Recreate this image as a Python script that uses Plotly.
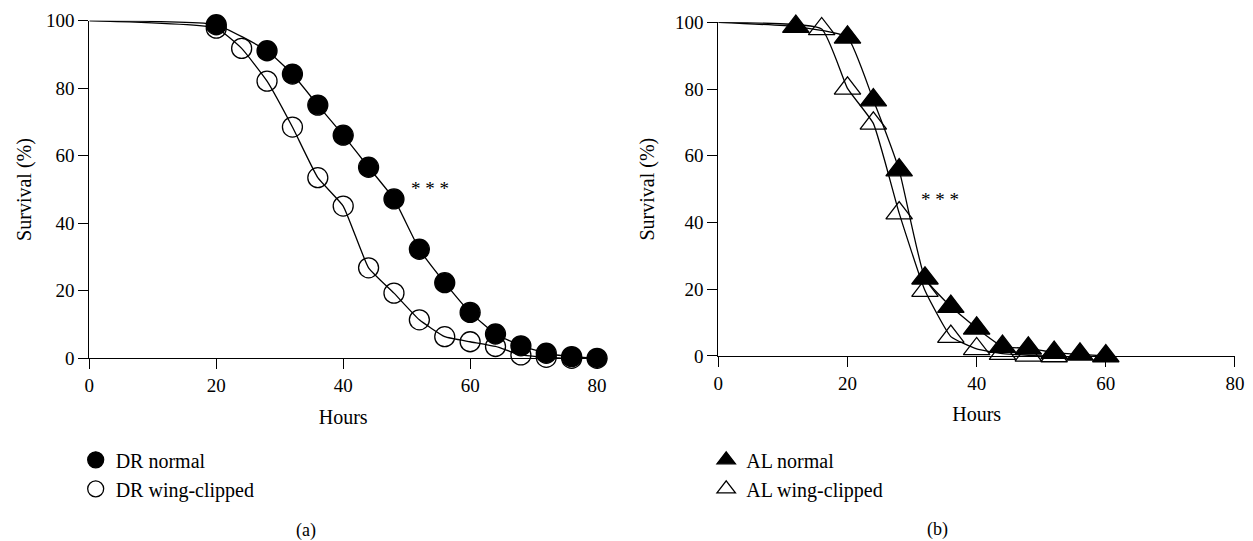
import plotly.graph_objects as go

# ---- data ----
dr_normal_x = [0, 20, 28, 32, 36, 40, 44, 48, 52, 56, 60, 64, 68, 72, 76, 80]
dr_normal_y = [100, 98.8, 91.1, 84.2, 75.0, 66.1, 56.6, 47.2, 32.3, 22.4, 13.6, 7.2, 3.7, 1.5, 0.5, 0]

dr_clip_x = [0, 20, 24, 28, 32, 36, 40, 44, 48, 52, 56, 60, 64, 68, 72, 76]
dr_clip_y = [100, 97.8, 91.8, 82.1, 68.5, 53.5, 45.1, 26.8, 19.3, 11.4, 6.4, 4.9, 3.5, 1.0, 0.3, 0]

al_normal_x = [0, 12, 20, 24, 28, 32, 36, 40, 44, 48, 52, 56, 60]
al_normal_y = [100, 98.7, 95.5, 76.7, 55.7, 23.3, 14.8, 8.3, 2.8, 2.3, 1.0, 0.5, 0]

al_clip_x = [0, 16, 20, 24, 28, 32, 36, 40, 44, 48, 52]
al_clip_y = [100, 98.0, 80.2, 69.7, 42.8, 19.6, 5.8, 2.1, 0.7, 0.2, 0]

x_ticks = [0, 20, 40, 60, 80]
y_ticks = [0, 20, 40, 60, 80, 100]
x_label = "Hours"
y_label = "Survival (%)"
panel_labels = ["(a)", "(b)"]
sig_text = "* * *"

FONT = "Liberation Serif"
BLACK = "black"

series = [
    # name, x, y, symbol, size, axes, legend
    ("DR normal", dr_normal_x, dr_normal_y, "circle", 20, ("x", "y"), "legend"),
    ("DR wing-clipped", dr_clip_x, dr_clip_y, "circle-open", 20, ("x", "y"), "legend"),
    ("AL normal", al_normal_x, al_normal_y, "triangle-up", 23, ("x2", "y2"), "legend2"),
    ("AL wing-clipped", al_clip_x, al_clip_y, "triangle-up-open", 23, ("x2", "y2"), "legend2"),
]

fig = go.Figure()

for name, xs, ys, sym, size, (xa, ya), leg in series:
    # connecting curve (starts at 0 h, 100 %)
    fig.add_trace(go.Scatter(
        x=xs, y=ys, mode="lines", showlegend=False, hoverinfo="skip",
        line=dict(color=BLACK, width=1.3, shape="spline", smoothing=0.4),
        xaxis=xa, yaxis=ya, cliponaxis=False))
    # observed points
    fig.add_trace(go.Scatter(
        x=xs[1:], y=ys[1:], mode="markers", name=name, legend=leg,
        marker=dict(symbol=sym, size=size, color=BLACK, opacity=1,
                    line=dict(color=BLACK, width=1.3)),
        xaxis=xa, yaxis=ya, cliponaxis=False))

axis_common = dict(
    showline=True, linecolor=BLACK, linewidth=1.3, ticks="outside", ticklen=10,
    tickwidth=1.3, tickcolor=BLACK, showgrid=False, zeroline=False, automargin=False,
    tickfont=dict(family=FONT, size=19, color=BLACK),
    title_font=dict(family=FONT, size=20, color=BLACK),
)

fig.update_layout(
    width=1253, height=541,
    margin=dict(l=0, r=0, t=0, b=0, autoexpand=False),
    paper_bgcolor="white", plot_bgcolor="white",
    showlegend=True,
    xaxis=dict(domain=[0.0713, 0.4765], range=[0, 80], tickvals=x_ticks,
               title=dict(text=x_label, standoff=14), anchor="y", **axis_common),
    yaxis=dict(domain=[0.3377, 0.9617], range=[0, 100], tickvals=y_ticks,
               title=dict(text=y_label, standoff=8), anchor="x", **axis_common),
    xaxis2=dict(domain=[0.5733, 0.9856], range=[0, 80], tickvals=x_ticks,
                title=dict(text=x_label, standoff=14), anchor="y2", **axis_common),
    yaxis2=dict(domain=[0.342, 0.9588], range=[0, 100], tickvals=y_ticks,
                title=dict(text=y_label, standoff=14), anchor="x2", **axis_common),
    legend=dict(x=0.0604, y=0.186, xanchor="left", yanchor="top",
                font=dict(family=FONT, size=20, color=BLACK),
                bgcolor="rgba(0,0,0,0)", tracegroupgap=0),
    legend2=dict(x=0.5636, y=0.186, xanchor="left", yanchor="top",
                 font=dict(family=FONT, size=20, color=BLACK),
                 bgcolor="rgba(0,0,0,0)", tracegroupgap=0),
    annotations=[
        dict(text=sig_text, x=53.6, y=50.2, xref="x", yref="y", showarrow=False,
             xanchor="center", yanchor="middle",
             font=dict(family=FONT, size=19, color=BLACK)),
        dict(text=sig_text, x=34.3, y=46.8, xref="x2", yref="y2", showarrow=False,
             xanchor="center", yanchor="middle",
             font=dict(family=FONT, size=19, color=BLACK)),
        dict(text=panel_labels[0], x=306 / 1253, y=(541 - 530) / 541, xref="paper", yref="paper",
             xanchor="center", yanchor="middle",
             showarrow=False, font=dict(family=FONT, size=18, color=BLACK)),
        dict(text=panel_labels[1], x=937 / 1253, y=(541 - 529) / 541, xref="paper", yref="paper",
             xanchor="center", yanchor="middle",
             showarrow=False, font=dict(family=FONT, size=18, color=BLACK)),
    ],
)

fig.write_html("out.html", config={"displayModeBar": False},
               post_script="document.body.style.margin='0';")
